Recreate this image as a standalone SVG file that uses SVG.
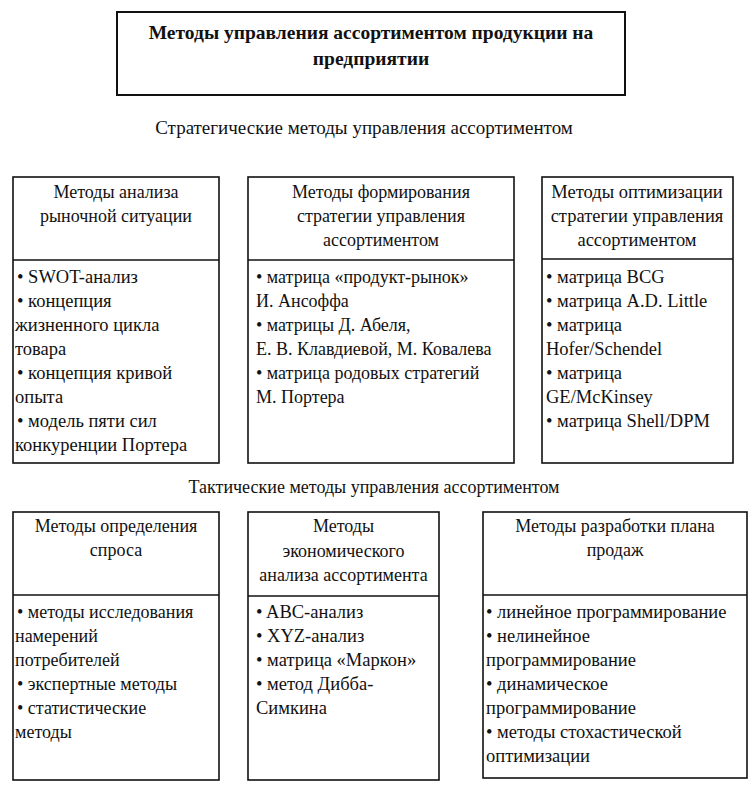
<svg xmlns="http://www.w3.org/2000/svg" width="756" height="786" viewBox="0 0 756 786">
<style>
  text { font-family: "Liberation Serif", "Times New Roman", serif; font-size: 18px; fill: #111; }
  .title { font-weight: bold; font-size: 19.5px; text-anchor: middle; }
  .sub { font-size: 19px; text-anchor: middle; }
  .c { text-anchor: middle; }
  .l { font-size: 18.5px; }
  .box { fill: #fff; stroke: #111; stroke-width: 1.6; }
  .sep { stroke: #111; stroke-width: 1.6; }
</style>
<rect width="756" height="786" fill="#fff"/>
<g id="top">
  <rect x="117" y="12" width="508" height="83" fill="#fff" stroke="#111" stroke-width="2"/>
  <text class="title" x="371" y="39">Методы управления ассортиментом продукции на</text>
  <text class="title" x="371" y="65">предприятии</text>
</g>
<g id="strat-label"><text class="sub" x="364" y="134">Стратегические методы управления ассортиментом</text></g>
<g id="tact-label"><text class="c" x="374" y="493">Тактические методы управления ассортиментом</text></g>
<g id="connectors"></g>
<g id="n1">
  <rect class="box" x="13" y="177" width="206" height="286"/>
  <line class="sep" x1="13" y1="260" x2="219" y2="260"/>
  <text class="c" x="116" y="198">Методы анализа</text>
  <text class="c" x="116" y="222">рыночной ситуации</text>
  <text class="l" x="17" y="283">• SWOT-анализ</text>
  <text class="l" x="17" y="307">• концепция</text>
  <text class="l" x="15" y="331">жизненного цикла</text>
  <text class="l" x="15" y="355">товара</text>
  <text class="l" x="17" y="379">• концепция кривой</text>
  <text class="l" x="15" y="403">опыта</text>
  <text class="l" x="17" y="427">• модель пяти сил</text>
  <text class="l" x="15" y="451">конкуренции Портера</text>
</g>
<g id="n2">
  <rect class="box" x="248" y="177" width="266" height="286"/>
  <line class="sep" x1="248" y1="260" x2="514" y2="260"/>
  <text class="c" x="381" y="198">Методы формирования</text>
  <text class="c" x="381" y="222">стратегии управления</text>
  <text class="c" x="381" y="246">ассортиментом</text>
  <text x="256" y="283">• матрица «продукт-рынок»</text>
  <text x="256" y="307">И. Ансоффа</text>
  <text x="256" y="331">• матрицы Д. Абеля,</text>
  <text x="256" y="355">Е. В. Клавдиевой, М. Ковалева</text>
  <text x="256" y="379">• матрица родовых стратегий</text>
  <text x="256" y="403">М. Портера</text>
</g>
<g id="n3">
  <rect class="box" x="542" y="177" width="191" height="286"/>
  <line class="sep" x1="542" y1="259" x2="733" y2="259"/>
  <text class="c l" x="637" y="198">Методы оптимизации</text>
  <text class="c l" x="637" y="222">стратегии управления</text>
  <text class="c l" x="637" y="246">ассортиментом</text>
  <text class="l" x="546" y="283">• матрица BCG</text>
  <text class="l" x="546" y="307">• матрица A.D. Little</text>
  <text class="l" x="546" y="331">• матрица</text>
  <text class="l" x="546" y="355">Hofer/Schendel</text>
  <text class="l" x="546" y="379">• матрица</text>
  <text class="l" x="546" y="403">GE/McKinsey</text>
  <text class="l" x="546" y="427">• матрица Shell/DPM</text>
</g>
<g id="n4">
  <rect class="box" x="13" y="512" width="206" height="268"/>
  <line class="sep" x1="13" y1="595" x2="219" y2="595"/>
  <text class="c" x="116" y="532">Методы определения</text>
  <text class="c" x="116" y="556">спроса</text>
  <text x="17" y="618">• методы исследования</text>
  <text x="15" y="642">намерений</text>
  <text x="15" y="666">потребителей</text>
  <text x="17" y="690">•  экспертные методы</text>
  <text x="17" y="714">•  статистические</text>
  <text x="15" y="738">методы</text>
</g>
<g id="n5">
  <rect class="box" x="248" y="512" width="191" height="268"/>
  <line class="sep" x1="248" y1="596" x2="439" y2="596"/>
  <text class="c" x="343.5" y="532">Методы</text>
  <text class="c" x="343.5" y="557">экономического</text>
  <text class="c" x="343.5" y="581">анализа ассортимента</text>
  <text class="l" x="256" y="618">• ABC-анализ</text>
  <text class="l" x="256" y="642">• XYZ-анализ</text>
  <text class="l" x="256" y="666">• матрица «Маркон»</text>
  <text class="l" x="256" y="690">• метод Дибба-</text>
  <text class="l" x="256" y="714">Симкина</text>
</g>
<g id="n6">
  <rect class="box" x="483" y="512" width="264" height="266"/>
  <line class="sep" x1="483" y1="595" x2="747" y2="595"/>
  <text class="c" x="615" y="532">Методы разработки плана</text>
  <text class="c" x="615" y="556">продаж</text>
  <text class="l" x="486" y="618">• линейное программирование</text>
  <text class="l" x="486" y="642">• нелинейное</text>
  <text class="l" x="486" y="666">программирование</text>
  <text class="l" x="486" y="690">• динамическое</text>
  <text class="l" x="486" y="714">программирование</text>
  <text class="l" x="486" y="738">• методы стохастической</text>
  <text class="l" x="486" y="762">оптимизации</text>
</g>
</svg>
